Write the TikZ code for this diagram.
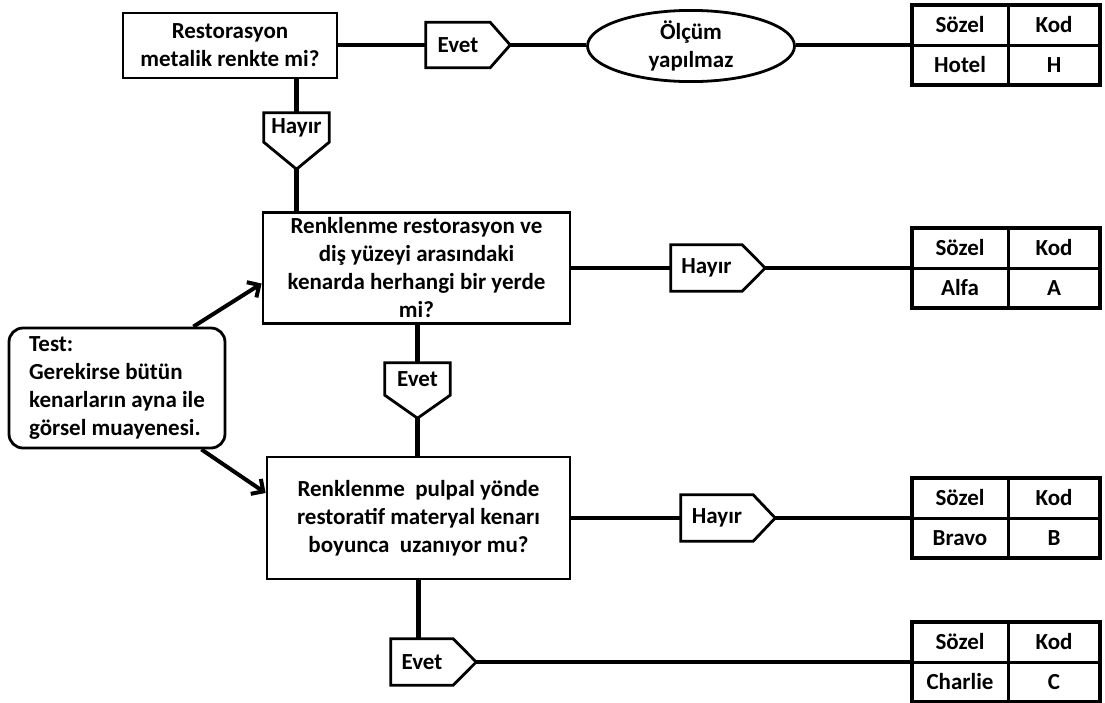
\documentclass[tikz,border=0pt]{standalone}
\usepackage{fontspec}
\setmainfont{Carlito}
\usetikzlibrary{arrows.meta,shapes.geometric,calc}
\tikzset{
  every node/.style={font=\fontsize{23}{28}\selectfont\bfseries},
  box/.style={draw, line width=2.8pt, inner sep=0pt, align=center},
  conn/.style={line width=4.5pt},
  tagline/.style={line width=2.8pt, line join=miter},
  arr/.style={line width=4pt, -{Straight Barb[length=9pt,width=18pt,line width=4pt]}},
  bbnode/.style={inner sep=0pt, draw=none}
}
\newcommand\rtag[7]{%
  \node[bbnode, minimum width=#4pt, minimum height=#5pt] (#1) at (#2,#3) {};
  \draw[tagline] (#1.north west) -- ([xshift=-#6pt]#1.north east) -- (#1.east) -- ([xshift=-#6pt]#1.south east) -- (#1.south west) -- cycle;
  \node (#1t) at ([xshift=-#6pt/2]#1.center) {#7};}
\newcommand\dtag[7]{%
  \node[bbnode, minimum width=#4pt, minimum height=#5pt] (#1) at (#2,#3) {};
  \draw[tagline] (#1.north west) -- (#1.north east) -- ([yshift=#6pt]#1.south east) -- (#1.south) -- ([yshift=#6pt]#1.south west) -- cycle;
  \node (#1t) at ([yshift=#6pt/2]#1.center) {#7};}
\newcommand\codetable[4]{%
  \node[draw, line width=3.5pt, minimum width=188pt, minimum height=80pt, inner sep=0pt] (#1) at (1006,#2) {};
  \draw[line width=3pt] (#1.west) -- (#1.east);
  \draw[line width=3pt] ([xshift=2pt]#1.north) -- ([xshift=2pt]#1.south);
  \node (#1a) at ([xshift=-46pt,yshift=20pt]#1.center) {Sözel};
  \node (#1b) at ([xshift=48pt,yshift=20pt]#1.center) {Kod};
  \node (#1c) at ([xshift=-46pt,yshift=-20pt]#1.center) {#3};
  \node (#1d) at ([xshift=48pt,yshift=-20pt]#1.center) {#4};}
\begin{document}
\begin{tikzpicture}[x=1pt,y=-1pt]
\fill[white] (0,0) rectangle (1105,702);
\useasboundingbox (0,0) rectangle (1105,702);

% main boxes
\node[box, minimum width=214pt, minimum height=65pt] (B1) at (230,45.5) {Restorasyon\\metalik renkte mi?};
\node[box, minimum width=307pt, minimum height=111pt] (B2) at (416.5,268) {Renklenme restorasyon ve\\diş yüzeyi arasındaki\\kenarda herhangi bir yerde\\mi?};
\node[box, minimum width=303pt, minimum height=122pt] (B3) at (418.5,518) {Renklenme\ \ pulpal yönde\\restoratif materyal kenarı\\boyunca\ \ uzanıyor mu?};
\node[box, rounded corners=14pt, minimum width=216pt, minimum height=120pt, align=left] (T) at (117,388) {Test:\\Gerekirse bütün\\kenarların ayna ile\\görsel muayenesi.};
\node[draw, ellipse, line width=2.8pt, minimum width=207pt, minimum height=67pt, inner sep=0pt, align=center] (ell) at (691,46) {Ölçüm\\yapılmaz};

% tags
\rtag{E1}{468}{45}{84}{45}{20}{Evet}
\dtag{H1}{296.5}{141}{65}{56}{27}{Hayır}
\rtag{H2}{718}{268}{94}{46}{23}{Hayır}
\dtag{E2}{417.5}{390.5}{65}{55}{23}{Evet}
\rtag{H3}{728}{518}{94}{46}{22}{Hayır}
\rtag{E3}{433.5}{662}{85}{46}{23}{Evet}

% tables
\codetable{tH}{45}{Hotel}{H}
\codetable{tA}{268}{Alfa}{A}
\codetable{tB}{518}{Bravo}{B}
\codetable{tC}{662}{Charlie}{C}

% connectors
\draw[conn] (E1.west -| B1.east) -- (E1.west);
\draw[conn] (E1.east) -- (E1.east -| ell.west);
\draw[conn] (tH.west -| ell.east) -- (tH.west);
\draw[conn] (B1.south -| H1.north) -- (H1.north);
\draw[conn] (H1.south) -- (H1.south |- B2.north);
\draw[conn] (B2.east) -- (H2.west);
\draw[conn] (H2.east) -- (tA.west);
\draw[conn] (B2.south -| E2.north) -- (E2.north);
\draw[conn] (E2.south) -- (E2.south |- B3.north);
\draw[conn] (B3.east) -- (H3.west);
\draw[conn] (H3.east) -- (tB.west);
\draw[conn] (B3.south) -- (B3.south |- E3.north);
\draw[conn] (E3.east) -- (tC.west);

% arrows
\draw[arr] ([xshift=-33pt]T.north east) -- ([yshift=-15.5pt]B2.west);
\draw[arr] ([xshift=-25pt]T.south east) -- ([yshift=25pt]B3.west);
\end{tikzpicture}
\end{document}
